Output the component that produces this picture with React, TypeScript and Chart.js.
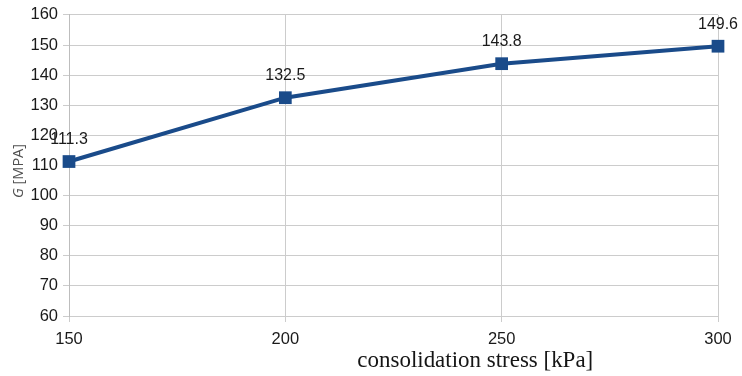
import React, { useEffect, useRef } from "react";
import { Chart, registerables } from "chart.js";

Chart.register(...registerables);

const stress = [150, 200, 250, 300];
const gValues = [111.3, 132.5, 143.8, 149.6];
const xTicks = [150, 200, 250, 300];
const yMin = 60;
const yMax = 160;
const xTitle = "consolidation stress [kPa]";
const yTitleItalic = "G";
const yTitleRest = " [MPA]";

const lineColor = "#1a4b8a";
const sans = "'Liberation Sans', Arial, sans-serif";

const labelsPlugin = {
  id: "customText",
  afterDatasetsDraw(chart: any) {
    const ctx = chart.ctx;
    const meta = chart.getDatasetMeta(0);
    ctx.save();
    ctx.fillStyle = "#1a1a1a";
    ctx.font = `16px ${sans}`;
    ctx.textAlign = "center";
    ctx.textBaseline = "middle";
    meta.data.forEach((pt: any, i: number) => {
      ctx.fillText(String(gValues[i]), pt.x, pt.y - 22);
    });
    ctx.restore();
  },
  afterDraw(chart: any) {
    const ctx = chart.ctx;
    const area = chart.chartArea;
    ctx.save();
    // x title
    ctx.fillStyle = "#151515";
    ctx.font = "100px 'Liberation Serif', serif";
    const w100 = ctx.measureText(xTitle).width;
    const size = (236 / w100) * 100;
    ctx.font = `${size}px 'Liberation Serif', serif`;
    ctx.textAlign = "center";
    ctx.textBaseline = "alphabetic";
    const cx = area.left + (area.right - area.left) * 0.626;
    ctx.fillText(xTitle, cx, area.bottom + 51);
    // y title
    ctx.translate(23, 171);
    ctx.rotate(-Math.PI / 2);
    ctx.fillStyle = "#505050";
    ctx.textBaseline = "alphabetic";
    const fi = "italic 14.5px 'Open Sans', sans-serif";
    const fr = "14.5px 'Open Sans', sans-serif";
    ctx.font = fi;
    const wi = ctx.measureText(yTitleItalic).width;
    ctx.font = fr;
    const wr = ctx.measureText(yTitleRest).width;
    const total = wi + wr;
    ctx.textAlign = "left";
    ctx.font = fi;
    ctx.fillText(yTitleItalic, -total / 2, 0);
    ctx.font = fr;
    ctx.fillText(yTitleRest, -total / 2 + wi, 0);
    ctx.restore();
  },
};

export default function App() {
  const ref = useRef<HTMLCanvasElement | null>(null);
  useEffect(() => {
    document.body.style.margin = "0";
    const canvas = ref.current!;
    const chart = new Chart(canvas, {
      type: "line",
      data: {
        datasets: [
          {
            data: stress.map((x, i) => ({ x, y: gValues[i] })),
            borderColor: lineColor,
            backgroundColor: lineColor,
            borderWidth: 4,
            pointStyle: "rect",
            pointRadius: 9,
            pointHoverRadius: 9,
            pointBorderWidth: 0,
            tension: 0,
            clip: false as any,
          },
        ],
      },
      options: {
        animation: false,
        responsive: false,
        maintainAspectRatio: false,
        layout: { padding: { left: 0, right: 24, top: 13, bottom: 0 } },
        plugins: {
          legend: { display: false },
          tooltip: { enabled: false },
          title: { display: false },
        },
        scales: {
          x: {
            type: "linear",
            min: 150,
            max: 300,
            afterBuildTicks: (s: any) => {
              s.ticks = xTicks.map((v) => ({ value: v }));
            },
            afterFit: (s: any) => {
              s.height = 60;
            },
            grid: {
              color: "#cccccc",
              lineWidth: 1,
              tickLength: 6,
              drawTicks: true,
            },
            border: { display: true, color: "#cccccc" },
            ticks: {
              color: "#1a1a1a",
              padding: 8,
              font: { family: sans, size: 16.5 },
            },
          },
          y: {
            type: "linear",
            min: yMin,
            max: yMax,
            afterFit: (s: any) => {
              s.width = 69;
            },
            ticks: {
              stepSize: 10,
              color: "#1a1a1a",
              padding: 5,
              font: { family: sans, size: 16.5 },
            },
            grid: {
              color: "#cccccc",
              lineWidth: 1,
              tickLength: 6,
            },
            border: { display: true, color: "#bdbdbd" },
          },
        },
      },
      plugins: [labelsPlugin],
    });
    return () => chart.destroy();
  }, []);
  return (
    <div style={{ position: "absolute", left: 0, top: 0, width: 742, height: 376, background: "#fff" }}>
      <canvas ref={ref} width={742} height={376} style={{ width: 742, height: 376 }} />
    </div>
  );
}
